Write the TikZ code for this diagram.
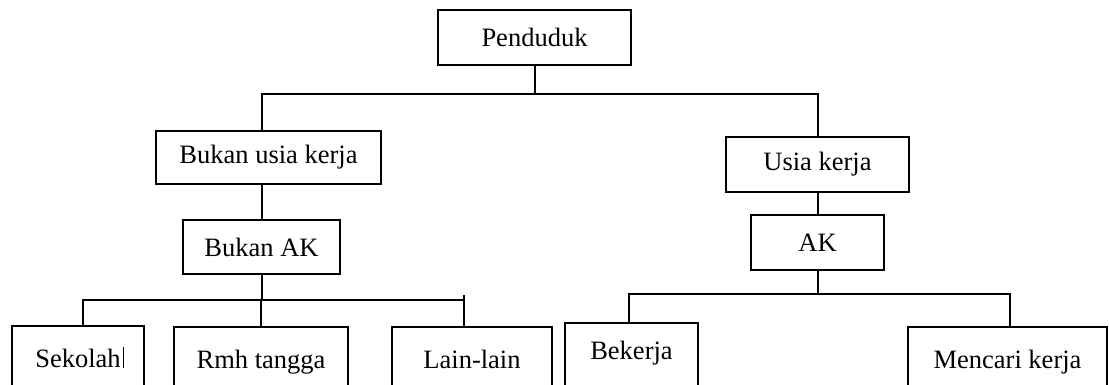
\documentclass[tikz,border=0pt]{standalone}
\usepackage{fontspec}
\setmainfont{Liberation Serif}
\begin{document}
\begin{tikzpicture}[x=1pt,y=-1pt,line width=2pt,
  kotak/.style={draw,rectangle,inner sep=0pt,font=\fontsize{26.5}{30}\selectfont},
  bawah/.style={kotak,minimum height=74,text height=18pt,text depth=10pt}]
\useasboundingbox (0,0) rectangle (1109,385);
\clip (0,0) rectangle (1109,385);
\node[kotak,minimum width=193,minimum height=55] (pend) at (534.5,37.5) {Penduduk};
\node[kotak,minimum width=225,minimum height=53] (buk) at (268.5,157.5) {Bukan usia kerja};
\node[kotak,minimum width=157,minimum height=54] (bak) at (261.5,247) {Bukan AK};
\node[kotak,minimum width=183,minimum height=55] (usia) at (817.5,164.5) {Usia kerja};
\node[kotak,minimum width=133,minimum height=55] (ak) at (817.5,242.5) {AK};
\node[bawah,minimum width=132] (sek) at (78,363) {Sekolah\rlap{\kern2.5pt\smash{\rule[-1pt]{1pt}{21pt}}}};
\node[bawah,minimum width=174] (rmh) at (261,364) {Rmh tangga};
\node[bawah,minimum width=160] (lain) at (472,364) {Lain-lain};
\node[bawah,minimum width=133,text depth=20pt] (bek) at (631.5,360) {Bekerja};
\node[bawah,minimum width=199] (cari) at (1007.5,364) {Mencari kerja};
\draw (pend.south) -- ++(0,28) coordinate (jatas);
\draw (bak.north |- buk.north) |- (jatas) -| (usia.north);
\draw (buk.south -| bak.north) -- (bak.north);
\draw (usia.south) -- (ak.north);
\draw (bak.south) -- ++(0,25) coordinate (jkiri);
\draw ([xshift=5]sek.north) |- (jkiri) -| ([xshift=-8]lain.north);
\draw ([xshift=-8]lain.north) -- ++(0,-31);
\draw (rmh.north) -- (rmh.north |- jkiri);
\draw (ak.south) -- ++(0,23) coordinate (jkanan);
\draw ([xshift=-2.5]bek.north) |- (jkanan) -| ([xshift=2.5]cari.north);
\end{tikzpicture}
\end{document}
